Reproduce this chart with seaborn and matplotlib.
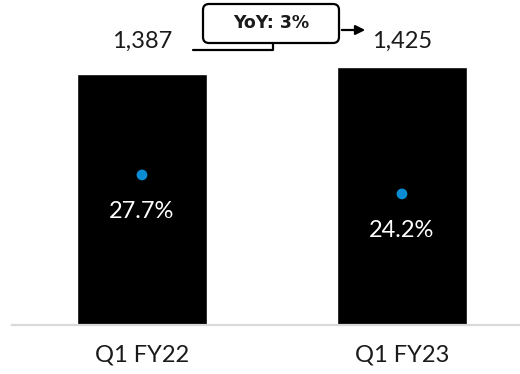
import seaborn as sns
import matplotlib.pyplot as plt
from matplotlib.patches import FancyBboxPatch
from matplotlib.lines import Line2D
import matplotlib.transforms as mtransforms

# dati
quarters = ["Q1 FY22", "Q1 FY23"]
revenue = [1387, 1425]
revenue_labels = ["1,387", "1,425"]
margin = [27.7, 24.2]
margin_labels = ["27.7%", "24.2%"]
yoy_text = "YoY: 3%"

sns.set_style("white")
plt.rcParams["font.family"] = ["Lato", "DejaVu Sans"]

fig = plt.figure(figsize=(5.2, 3.74), dpi=100)
ax = fig.add_axes([12 / 520, 49 / 374, 508 / 520, 325 / 374])

sns.barplot(x=quarters, y=revenue, color="black", width=0.5, saturation=1, ax=ax)
ax.set_xlim(-0.5, 1.454)
ax.set_ylim(0, 1796)
ax.set_yticks([])
ax.set_ylabel("")
for s in ["top", "left", "right"]:
    ax.spines[s].set_visible(False)
ax.spines["bottom"].set_color("#d9d9d9")
ax.spines["bottom"].set_linewidth(1.6)
ax.tick_params(axis="x", length=0, pad=14, labelsize=17, colors="#1a1a1a")

# etichette dei valori sopra le barre
trans = mtransforms.blended_transform_factory(ax.transData, ax.transAxes)
for i, lab in enumerate(revenue_labels):
    ax.text(i, 0.874, lab, transform=trans, ha="center", va="center",
            fontsize=17, color="#1a1a1a")

# margine sull'asse secondario
ax2 = ax.twinx()
sns.scatterplot(x=[0, 1], y=margin, color="#0A8CD4", s=60, edgecolor="none", ax=ax2, zorder=5)
ax2.set_ylim(0, 60)
ax2.set_xlim(-0.5, 1.454)
ax2.set_yticks([])
ax2.set_ylabel("")
for s in ["top", "left", "right", "bottom"]:
    ax2.spines[s].set_visible(False)
for i, lab in enumerate(margin_labels):
    ax2.annotate(lab, (i, margin[i]), xytext=(0, -37), textcoords="offset pixels",
                 ha="center", va="center", fontsize=17, color="white")

# box YoY con connettore e freccia
box = FancyBboxPatch((203, 331), 136, 39, boxstyle="round,pad=0,rounding_size=6",
                     transform=None, facecolor="white", edgecolor="black", linewidth=1.6)
fig.patches.append(box)
fig.text(271 / 520, 351 / 374, yoy_text, ha="center", va="center",
         fontsize=12.5, fontweight="bold", family="DejaVu Sans", color="#1a1a1a")
fig.add_artist(Line2D([193, 273, 273], [324, 324, 331], transform=None,
                      color="black", linewidth=1.6))
ax.annotate("", xy=(368, 344), xytext=(339, 344), xycoords="figure pixels",
            textcoords="figure pixels",
            arrowprops=dict(arrowstyle="-|>", color="black", lw=1.6, mutation_scale=14))

fig.savefig("out.png", dpi=100)
